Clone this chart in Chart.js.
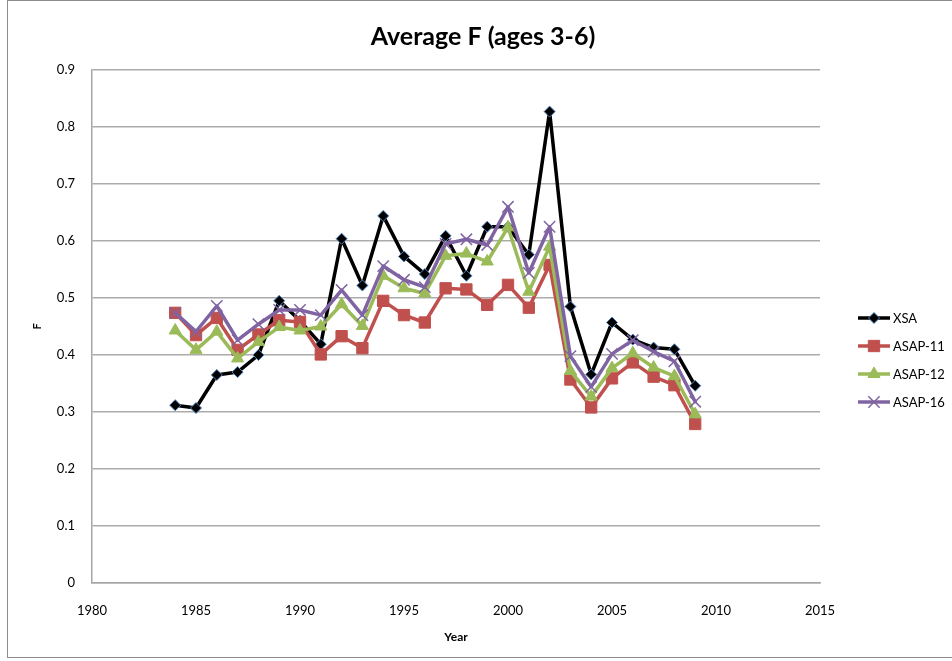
<!DOCTYPE html>
<html lang="en">
<head>
    <meta charset="UTF-8">
    <title>Average F (ages 3-6)</title>
    <style>
        body { margin: 0; background: #fff; }
        canvas { display: block; }
    </style>
</head>
<body>
    <canvas id="fChart" width="952" height="661"></canvas>

    <script src="https://cdn.jsdelivr.net/npm/chart.js"></script>
    <script>
        // Années et F moyen (âges 3-6) par modèle
        const years = [1984, 1985, 1986, 1987, 1988, 1989, 1990, 1991, 1992, 1993, 1994, 1995, 1996,
                       1997, 1998, 1999, 2000, 2001, 2002, 2003, 2004, 2005, 2006, 2007, 2008, 2009];

        const xsa    = [0.312, 0.307, 0.365, 0.370, 0.400, 0.495, 0.460, 0.419, 0.604, 0.522, 0.644, 0.573, 0.542,
                        0.609, 0.539, 0.625, 0.625, 0.576, 0.827, 0.485, 0.366, 0.457, 0.427, 0.413, 0.410, 0.346];
        const asap11 = [0.474, 0.435, 0.465, 0.409, 0.436, 0.461, 0.458, 0.401, 0.433, 0.412, 0.495, 0.470, 0.457,
                        0.517, 0.515, 0.488, 0.523, 0.483, 0.558, 0.357, 0.308, 0.359, 0.387, 0.362, 0.347, 0.279];
        const asap12 = [0.443, 0.409, 0.441, 0.394, 0.423, 0.449, 0.443, 0.450, 0.489, 0.451, 0.539, 0.517, 0.508,
                        0.574, 0.578, 0.564, 0.624, 0.511, 0.590, 0.372, 0.327, 0.377, 0.403, 0.378, 0.363, 0.296];
        const asap16 = [0.474, 0.441, 0.486, 0.426, 0.454, 0.479, 0.479, 0.470, 0.514, 0.470, 0.556, 0.532, 0.519,
                        0.595, 0.603, 0.593, 0.660, 0.544, 0.625, 0.398, 0.344, 0.402, 0.426, 0.406, 0.389, 0.318];

        const xTicks = [1980, 1985, 1990, 1995, 2000, 2005, 2010, 2015];
        const yTicks = [0, 0.1, 0.2, 0.3, 0.4, 0.5, 0.6, 0.7, 0.8, 0.9];

        const FONT = 'Lato, "Open Sans", sans-serif';

        function toPoints(values) {
            return values.map((v, i) => ({ x: years[i], y: v }));
        }

        // Cadre, titre et légende dessinés à la main
        const decorPlugin = {
            id: 'decor',
            beforeDraw(chart) {
                const ctx = chart.ctx;
                ctx.save();
                ctx.fillStyle = '#fff';
                ctx.fillRect(0, 0, chart.width, chart.height);
                ctx.strokeStyle = '#8c8c8c';
                ctx.lineWidth = 1;
                ctx.strokeRect(7.5, 0.5, chart.width - 7, chart.height - 4);
                ctx.restore();
            },
            afterDraw(chart) {
                const ctx = chart.ctx;
                ctx.save();
                ctx.fillStyle = '#000';
                ctx.font = 'bold 25px ' + FONT;
                ctx.textAlign = 'center';
                ctx.textBaseline = 'middle';
                ctx.fillText('Average F (ages 3-6)', 483, 37);

                // légende à droite
                ctx.font = '13px ' + FONT;
                ctx.textAlign = 'left';
                chart.data.datasets.forEach((ds, i) => {
                    const y = 318 + i * 28;
                    ctx.strokeStyle = ds.borderColor;
                    ctx.lineWidth = ds.borderWidth;
                    ctx.beginPath();
                    ctx.moveTo(858, y);
                    ctx.lineTo(890, y);
                    ctx.stroke();
                    ctx.fillStyle = ds.pointBackgroundColor;
                    ctx.strokeStyle = ds.pointBorderColor;
                    ctx.lineWidth = ds.pointBorderWidth;
                    Chart.helpers.drawPoint(ctx, {
                        pointStyle: ds.pointStyle,
                        radius: ds.pointRadius,
                        borderWidth: ds.pointBorderWidth
                    }, 874, y);
                    ctx.fillStyle = '#000';
                    ctx.fillText(ds.label, 893, y + 1);
                });
                ctx.restore();
            }
        };

        const datasets = [
            {
                label: 'XSA', data: toPoints(xsa), order: 3,
                borderColor: '#000000', backgroundColor: '#000000', borderWidth: 3.5,
                pointStyle: 'rectRot', pointRadius: 5.5, pointBackgroundColor: '#000000',
                pointBorderColor: '#4f81bd', pointBorderWidth: 1
            },
            {
                label: 'ASAP-11', data: toPoints(asap11), order: 2,
                borderColor: '#c0504d', backgroundColor: '#c0504d', borderWidth: 3.5,
                pointStyle: 'rect', pointRadius: 8, pointBackgroundColor: '#c0504d',
                pointBorderColor: '#c0504d', pointBorderWidth: 1
            },
            {
                label: 'ASAP-12', data: toPoints(asap12), order: 1,
                borderColor: '#9bbb59', backgroundColor: '#9bbb59', borderWidth: 3.5,
                pointStyle: 'triangle', pointRadius: 7, pointBackgroundColor: '#9bbb59',
                pointBorderColor: '#9bbb59', pointBorderWidth: 1
            },
            {
                label: 'ASAP-16', data: toPoints(asap16), order: 0,
                borderColor: '#8064a2', backgroundColor: '#8064a2', borderWidth: 3.5,
                pointStyle: 'crossRot', pointRadius: 8, pointBackgroundColor: '#8064a2',
                pointBorderColor: '#8064a2', pointBorderWidth: 1.5
            }
        ];

        const ctx = document.getElementById('fChart').getContext('2d');
        window.fChart = new Chart(ctx, {
            type: 'line',
            data: { datasets: datasets },
            options: {
                responsive: false,
                animation: false,
                layout: { padding: { top: 70, right: 132, left: 0, bottom: 0 } },
                elements: { line: { tension: 0, borderJoinStyle: 'round', borderCapStyle: 'round' } },
                plugins: {
                    legend: { display: false },
                    tooltip: { enabled: false }
                },
                scales: {
                    x: {
                        type: 'linear',
                        min: xTicks[0],
                        max: xTicks[xTicks.length - 1],
                        afterBuildTicks: (scale) => { scale.ticks = xTicks.map(v => ({ value: v })); },
                        afterFit: (scale) => { scale.height = 78; },
                        grid: { display: false },
                        border: { display: true, color: '#a6a6a6', width: 1.5 },
                        ticks: {
                            color: '#000', font: { family: FONT, size: 13 }, padding: 12,
                            maxRotation: 0, callback: (v) => String(v)
                        },
                        title: {
                            display: true, text: 'Year', color: '#000',
                            font: { family: FONT, size: 12, weight: 'bold' },
                            padding: { top: 0, bottom: 17 }
                        }
                    },
                    y: {
                        min: 0,
                        max: 0.9,
                        afterBuildTicks: (scale) => { scale.ticks = yTicks.map(v => ({ value: v })); },
                        afterFit: (scale) => { scale.width = 92; },
                        grid: { color: '#ababab', lineWidth: 1.5, drawTicks: false },
                        border: { display: true, color: '#a6a6a6', width: 1.5 },
                        ticks: {
                            color: '#000', font: { family: FONT, size: 13 }, padding: 17,
                            callback: (v) => String(Math.round(v * 10) / 10)
                        },
                        title: {
                            display: true, text: 'F', color: '#000',
                            font: { family: FONT, size: 11, weight: 'bold' },
                            padding: { top: 31, bottom: 0 }
                        }
                    }
                }
            },
            plugins: [decorPlugin]
        });
    </script>
</body>
</html>
